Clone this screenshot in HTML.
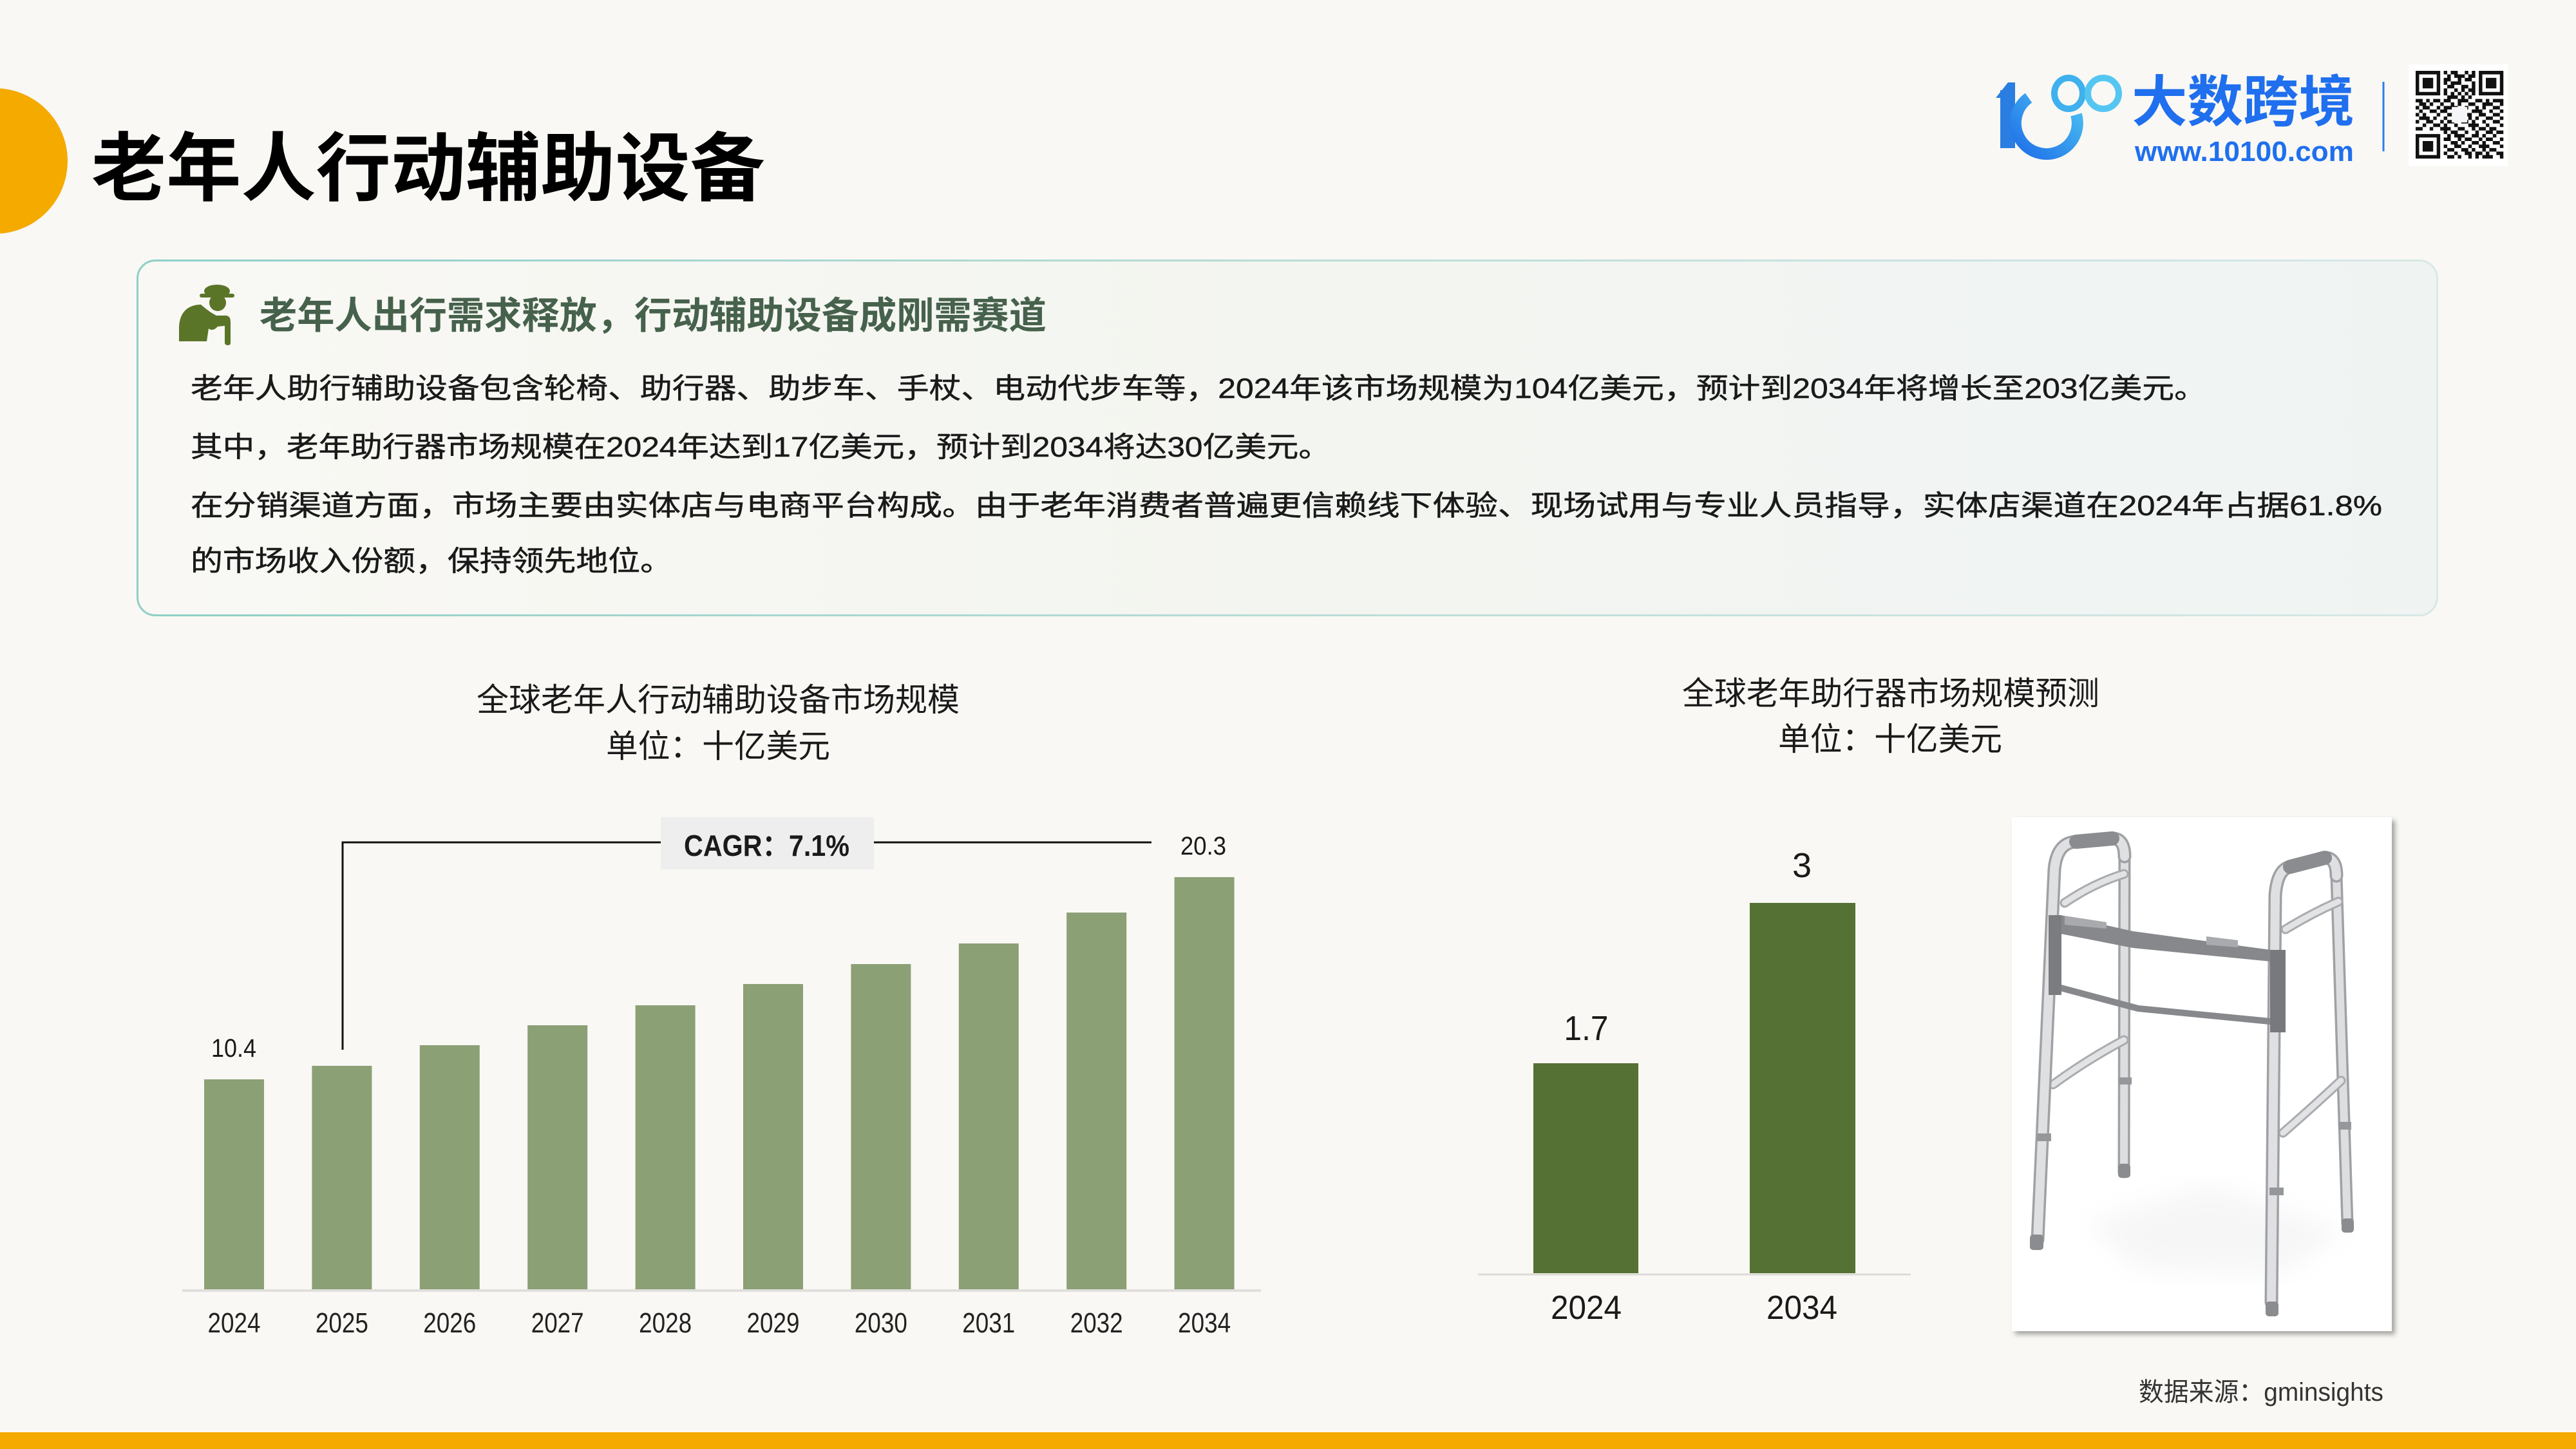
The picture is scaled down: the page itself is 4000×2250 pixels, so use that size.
<!DOCTYPE html>
<html lang="zh-CN">
<head>
<meta charset="utf-8">
<style>
  html,body{margin:0;padding:0;background:#f9f8f4;}
  body{width:4000px;height:2250px;overflow:hidden;position:relative;}
  svg{display:block;}
  text{font-family:"Liberation Sans","Noto Sans CJK SC",sans-serif;}
</style>
</head>
<body>
<svg width="4000" height="2250" viewBox="0 0 4000 2250" xmlns="http://www.w3.org/2000/svg">
  <defs>
    <linearGradient id="boxFill" x1="0" y1="0" x2="1" y2="0">
      <stop offset="0" stop-color="#f9f8f4"/>
      <stop offset="0.5" stop-color="#f3f5f0"/>
      <stop offset="1" stop-color="#eff4f3"/>
    </linearGradient>
    <linearGradient id="boxStroke" x1="0" y1="0" x2="1" y2="0">
      <stop offset="0" stop-color="#8fcfc7"/>
      <stop offset="0.5" stop-color="#b9dcd7"/>
      <stop offset="1" stop-color="#d8e8e6"/>
    </linearGradient>
    <linearGradient id="logoC" x1="0" y1="1" x2="1" y2="0">
      <stop offset="0" stop-color="#1f6fe8"/>
      <stop offset="1" stop-color="#4cc2f2"/>
    </linearGradient>
    <filter id="shadow" x="-5%" y="-5%" width="112%" height="112%">
      <feDropShadow dx="5" dy="5" stdDeviation="4" flood-color="#000" flood-opacity="0.35"/>
    </filter>
    <filter id="blur"><feGaussianBlur stdDeviation="18"/></filter>
  </defs>

  <rect x="0" y="0" width="4000" height="2250" fill="#f9f8f4"/>

  <circle cx="-8" cy="250" r="113" fill="#f5aa00"/>

  <text x="142" y="302" font-size="116" font-weight="700" fill="#000" textLength="1046" lengthAdjust="spacingAndGlyphs">老年人行动辅助设备</text>

  <!-- logo -->
  <g>
    <polygon points="3099,152 3118,128 3129,128 3129,152" fill="#2a7de1"/>
    <rect x="3106" y="140" width="23" height="90" fill="#2a7de1"/>
    <path d="M3150,152 A48,48 0 1,0 3224,178" fill="none" stroke="url(#logoC)" stroke-width="18"/>
    <ellipse cx="3212" cy="145" rx="22" ry="24" fill="none" stroke="#3fb1ee" stroke-width="10"/>
    <ellipse cx="3266" cy="145" rx="24" ry="24" fill="none" stroke="#55c6f2" stroke-width="10"/>
    <text x="3310" y="188" font-size="86" font-weight="700" fill="#1f6fee" textLength="346" lengthAdjust="spacingAndGlyphs">大数跨境</text>
    <text x="3315" y="250" font-size="44" font-weight="700" fill="#1f6fee" textLength="340" lengthAdjust="spacingAndGlyphs" style="font-family:'Liberation Sans',sans-serif">www.10100.com</text>
    <line x1="3701" y1="127" x2="3701" y2="235" stroke="#2f7de8" stroke-width="3"/>
  </g>

  <!-- QR code -->
  <rect x="3740" y="100" width="154" height="158" fill="#ffffff"/>
  <g transform="translate(3751,110) scale(5.45)" fill="#111">
    <path fill-rule="evenodd" d="M0 0h7v7h-7zM1 1v5h5v-5zM2 2h3v3h-3z"/>
    <path fill-rule="evenodd" d="M18 0h7v7h-7zM19 1v5h5v-5zM20 2h3v3h-3z"/>
    <path fill-rule="evenodd" d="M0 18h7v7h-7zM1 19v5h5v-5zM2 20h3v3h-3z"/>
    <path d="M8 0h1v1h-1zM10 0h2v1h-2zM14 0h1v1h-1zM16 0h1v1h-1z
M9 1h1v1h-1zM11 1h3v1h-3zM15 1h2v1h-2z
M8 2h2v1h-2zM12 2h1v1h-1zM14 2h2v1h-2z
M8 3h1v1h-1zM10 3h3v1h-3zM16 3h1v1h-1z
M9 4h2v1h-2zM13 4h2v1h-2zM16 4h1v1h-1z
M8 5h1v1h-1zM11 5h1v1h-1zM13 5h1v1h-1zM15 5h2v1h-2z
M8 6h1v1h-1zM10 6h1v1h-1zM12 6h1v1h-1zM14 6h1v1h-1zM16 6h1v1h-1z
M9 7h3v1h-3zM13 7h1v1h-1zM15 7h1v1h-1z
M0 8h2v1h-2zM3 8h1v1h-1zM5 8h2v1h-2zM8 8h2v1h-2zM12 8h3v1h-3zM17 8h2v1h-2zM20 8h1v1h-1zM22 8h3v1h-3z
M1 9h2v1h-2zM4 9h1v1h-1zM7 9h1v1h-1zM10 9h1v1h-1zM12 9h1v1h-1zM15 9h2v1h-2zM19 9h3v1h-3zM24 9h1v1h-1z
M0 10h1v1h-1zM2 10h2v1h-2zM6 10h1v1h-1zM8 10h4v1h-4zM14 10h1v1h-1zM17 10h1v1h-1zM19 10h1v1h-1zM22 10h2v1h-2z
M1 11h1v1h-1zM4 11h2v1h-2zM7 11h2v1h-2zM12 11h2v1h-2zM16 11h3v1h-3zM21 11h1v1h-1zM24 11h1v1h-1z
M0 12h1v1h-1zM2 12h1v1h-1zM6 12h1v1h-1zM9 12h2v1h-2zM14 12h2v1h-2zM18 12h2v1h-2zM22 12h2v1h-2z
M1 13h3v1h-3zM5 13h1v1h-1zM8 13h1v1h-1zM11 13h2v1h-2zM15 13h1v1h-1zM17 13h1v1h-1zM20 13h2v1h-2zM24 13h1v1h-1z
M0 14h1v1h-1zM3 14h2v1h-2zM7 14h1v1h-1zM9 14h2v1h-2zM13 14h2v1h-2zM16 14h1v1h-1zM19 14h1v1h-1zM22 14h2v1h-2z
M2 15h1v1h-1zM5 15h2v1h-2zM8 15h1v1h-1zM11 15h1v1h-1zM15 15h3v1h-3zM20 15h1v1h-1zM24 15h1v1h-1z
M0 16h2v1h-2zM4 16h1v1h-1zM7 16h3v1h-3zM12 16h2v1h-2zM16 16h1v1h-1zM18 16h2v1h-2zM21 16h2v1h-2z
M8 17h1v1h-1zM10 17h2v1h-2zM14 17h1v1h-1zM17 17h1v1h-1zM20 17h2v1h-2zM23 17h2v1h-2z
M9 18h1v1h-1zM11 18h3v1h-3zM16 18h2v1h-2zM19 18h1v1h-1zM22 18h1v1h-1z
M8 19h2v1h-2zM12 19h1v1h-1zM14 19h2v1h-2zM18 19h1v1h-1zM20 19h2v1h-2zM24 19h1v1h-1z
M10 20h2v1h-2zM13 20h1v1h-1zM16 20h2v1h-2zM19 20h1v1h-1zM22 20h2v1h-2z
M8 21h1v1h-1zM11 21h2v1h-2zM15 21h1v1h-1zM18 21h3v1h-3zM24 21h1v1h-1z
M9 22h2v1h-2zM13 22h2v1h-2zM16 22h1v1h-1zM19 22h1v1h-1zM21 22h2v1h-2z
M8 23h1v1h-1zM11 23h1v1h-1zM14 23h2v1h-2zM17 23h2v1h-2zM20 23h1v1h-1zM23 23h2v1h-2z
M9 24h2v1h-2zM12 24h1v1h-1zM15 24h1v1h-1zM17 24h1v1h-1zM19 24h3v1h-3zM24 24h1v1h-1z"/>
    <rect x="10.3" y="10.3" width="4.4" height="4.4" fill="#f4f5f8"/>
  </g>

  <!-- info box -->
  <rect x="213.5" y="404.5" width="3571" height="551" rx="28" ry="28" fill="url(#boxFill)" stroke="url(#boxStroke)" stroke-width="3"/>

  <!-- person icon -->
  <g fill="#5a7528">
    <ellipse cx="337" cy="452" rx="20" ry="10"/>
    <rect x="310" y="456" width="54" height="6" rx="3"/>
    <circle cx="338" cy="470" r="13"/>
    <path d="M278,530 L278,510 C278,485 292,473 312,473 C320,480 328,486 336,490 L350,490 C356,490 358,494 358,500 L358,533 C358,537 350,537 349,533 L349,506 L338,507 C334,512 328,514 324,510 L321,530 Z"/>
  </g>

  <text x="403" y="510" font-size="58" font-weight="700" fill="#46614c" textLength="1222" lengthAdjust="spacingAndGlyphs">老年人出行需求释放，行动辅助设备成刚需赛道</text>

  <!-- body -->
  <g font-size="44" fill="#1a1a1a" stroke="#1a1a1a" stroke-width="0.5">
    <text x="296" y="618" textLength="3130" lengthAdjust="spacingAndGlyphs">老年人助行辅助设备包含轮椅、助行器、助步车、手杖、电动代步车等，2024年该市场规模为104亿美元，预计到2034年将增长至203亿美元。</text>
    <text x="296" y="709" textLength="1770" lengthAdjust="spacingAndGlyphs">其中，老年助行器市场规模在2024年达到17亿美元，预计到2034将达30亿美元。</text>
    <text x="296" y="800" textLength="3403" lengthAdjust="spacingAndGlyphs">在分销渠道方面，市场主要由实体店与电商平台构成。由于老年消费者普遍更信赖线下体验、现场试用与专业人员指导，实体店渠道在2024年占据61.8%</text>
    <text x="296" y="886" textLength="748" lengthAdjust="spacingAndGlyphs">的市场收入份额，保持领先地位。</text>
  </g>

  <!-- LEFT CHART -->
  <g fill="#1a1a1a">
    <text x="1115" y="1104" font-size="50" text-anchor="middle" textLength="750" lengthAdjust="spacingAndGlyphs">全球老年人行动辅助设备市场规模</text>
    <text x="1115" y="1176" font-size="50" text-anchor="middle" textLength="348" lengthAdjust="spacingAndGlyphs">单位：十亿美元</text>
  </g>

  <g fill="#8ca076">
    <rect x="317" y="1676" width="93" height="326"/>
    <rect x="484.4" y="1655" width="93" height="347"/>
    <rect x="651.8" y="1623" width="93" height="379"/>
    <rect x="819.2" y="1592" width="93" height="410"/>
    <rect x="986.6" y="1561" width="93" height="441"/>
    <rect x="1154" y="1528" width="93" height="474"/>
    <rect x="1321.4" y="1497" width="93" height="505"/>
    <rect x="1488.8" y="1465" width="93" height="537"/>
    <rect x="1656.2" y="1417" width="93" height="585"/>
    <rect x="1823.6" y="1362" width="93" height="640"/>
  </g>
  <line x1="283" y1="2004" x2="1958" y2="2004" stroke="#e0dfdc" stroke-width="4"/>

  <g font-size="44" fill="#222" text-anchor="middle">
    <text x="363.5" y="2069" textLength="82" lengthAdjust="spacingAndGlyphs">2024</text>
    <text x="530.9" y="2069" textLength="82" lengthAdjust="spacingAndGlyphs">2025</text>
    <text x="698.3" y="2069" textLength="82" lengthAdjust="spacingAndGlyphs">2026</text>
    <text x="865.7" y="2069" textLength="82" lengthAdjust="spacingAndGlyphs">2027</text>
    <text x="1033.1" y="2069" textLength="82" lengthAdjust="spacingAndGlyphs">2028</text>
    <text x="1200.5" y="2069" textLength="82" lengthAdjust="spacingAndGlyphs">2029</text>
    <text x="1367.9" y="2069" textLength="82" lengthAdjust="spacingAndGlyphs">2030</text>
    <text x="1535.3" y="2069" textLength="82" lengthAdjust="spacingAndGlyphs">2031</text>
    <text x="1702.7" y="2069" textLength="82" lengthAdjust="spacingAndGlyphs">2032</text>
    <text x="1870.1" y="2069" textLength="82" lengthAdjust="spacingAndGlyphs">2034</text>
  </g>

  <g font-size="40" fill="#1a1a1a" text-anchor="middle">
    <text x="363" y="1641" textLength="70" lengthAdjust="spacingAndGlyphs">10.4</text>
    <text x="1868.5" y="1327" textLength="71" lengthAdjust="spacingAndGlyphs">20.3</text>
  </g>

  <g stroke="#111" stroke-width="3" fill="none">
    <polyline points="532,1630 532,1308 1026,1308"/>
    <line x1="1357" y1="1308" x2="1788" y2="1308"/>
  </g>
  <rect x="1026" y="1269" width="331" height="81" fill="#eeeeee"/>
  <text x="1062" y="1329" font-size="46" font-weight="700" fill="#1a1a1a" textLength="257" lengthAdjust="spacingAndGlyphs">CAGR：7.1%</text>

  <!-- RIGHT CHART -->
  <g fill="#1a1a1a">
    <text x="2936" y="1094" font-size="50" text-anchor="middle" textLength="648" lengthAdjust="spacingAndGlyphs">全球老年助行器市场规模预测</text>
    <text x="2935" y="1165" font-size="50" text-anchor="middle" textLength="348" lengthAdjust="spacingAndGlyphs">单位：十亿美元</text>
  </g>
  <g fill="#557133">
    <rect x="2381" y="1651" width="163" height="326"/>
    <rect x="2717" y="1402" width="164" height="575"/>
  </g>
  <line x1="2295" y1="1979" x2="2967" y2="1979" stroke="#dcdbd8" stroke-width="3"/>
  <g font-size="54" fill="#1a1a1a" text-anchor="middle">
    <text x="2463" y="1615" textLength="69" lengthAdjust="spacingAndGlyphs">1.7</text>
    <text x="2798" y="1362">3</text>
  </g>
  <g font-size="52" fill="#1a1a1a" text-anchor="middle">
    <text x="2463" y="2048" textLength="110" lengthAdjust="spacingAndGlyphs">2024</text>
    <text x="2798" y="2048" textLength="110" lengthAdjust="spacingAndGlyphs">2034</text>
  </g>

  <!-- walker picture -->
  <rect x="3124" y="1269" width="590" height="798" fill="#ffffff" filter="url(#shadow)"/>
  <g transform="translate(3100,1250)">
    <polygon points="140,650 330,590 540,660 440,730 220,720" fill="#ececec" opacity="0.45" filter="url(#blur)"/>
    <g fill="none" stroke-linecap="round">
      <path d="M199,80 L198,570" stroke="#9fa1a4" stroke-width="19"/>
      <path d="M199,80 L198,570" stroke="#dcdee0" stroke-width="12"/>
      <path d="M528,110 L545,650" stroke="#9fa1a4" stroke-width="19"/>
      <path d="M528,110 L545,650" stroke="#dcdee0" stroke-width="12"/>
      <path d="M106,152 Q150,122 198,107" stroke="#a9abae" stroke-width="15"/>
      <path d="M106,152 Q150,122 198,107" stroke="#e2e3e5" stroke-width="9"/>
      <path d="M88,434 Q140,396 198,365" stroke="#a9abae" stroke-width="15"/>
      <path d="M88,434 Q140,396 198,365" stroke="#e2e3e5" stroke-width="9"/>
      <path d="M449,193 Q490,168 531,150" stroke="#a9abae" stroke-width="15"/>
      <path d="M449,193 Q490,168 531,150" stroke="#e2e3e5" stroke-width="9"/>
      <path d="M445,509 Q490,470 535,428" stroke="#a9abae" stroke-width="15"/>
      <path d="M445,509 Q490,470 535,428" stroke="#e2e3e5" stroke-width="9"/>
      <path d="M64,675 L90,100 Q94,58 124,57 L180,52 Q199,52 199,80" stroke="#9fa1a4" stroke-width="21"/>
      <path d="M64,675 L90,100 Q94,58 124,57 L180,52 Q199,52 199,80" stroke="#dfe0e2" stroke-width="14"/>
      <path d="M427,772 L433,140 Q436,100 456,96 L508,82 Q528,80 528,110" stroke="#9fa1a4" stroke-width="21"/>
      <path d="M427,772 L433,140 Q436,100 456,96 L508,82 Q528,80 528,110" stroke="#dfe0e2" stroke-width="14"/>
      <path d="M124,57 L180,52" stroke="#8a8c8f" stroke-width="22"/>
      <path d="M456,96 L510,82" stroke="#8a8c8f" stroke-width="22"/>
      <path d="M100,284 L220,316 L425,336" stroke="#86888b" stroke-width="10"/>
    </g>
    <polygon points="100,171 212,196 426,225 426,243 212,222 100,200" fill="#86888b"/>
    <rect x="81" y="171" width="20" height="124" fill="#7a7c7f"/>
    <rect x="425" y="225" width="24" height="128" fill="#77797c"/>
    <polygon points="106,172 171,182 171,192 106,186" fill="#a8aaad"/>
    <polygon points="326,204 375,210 375,221 326,217" fill="#a8aaad"/>
    <g fill="#95979a">
      <rect x="63" y="510" width="22" height="12"/>
      <rect x="190" y="423" width="20" height="11"/>
      <rect x="424" y="594" width="22" height="12"/>
      <rect x="531" y="492" width="20" height="12"/>
    </g>
    <g fill="#8a8c8f">
      <rect x="52" y="667" width="21" height="24" rx="5"/>
      <rect x="189" y="557" width="19" height="22" rx="5"/>
      <rect x="418" y="771" width="20" height="23" rx="5"/>
      <rect x="536" y="642" width="19" height="22" rx="5"/>
    </g>
  </g>

  <text x="3321" y="2175" font-size="40" fill="#333" textLength="380" lengthAdjust="spacingAndGlyphs">数据来源：gminsights</text>

  <rect x="0" y="2224" width="4000" height="26" fill="#f5aa00"/>
</svg>
</body>
</html>
